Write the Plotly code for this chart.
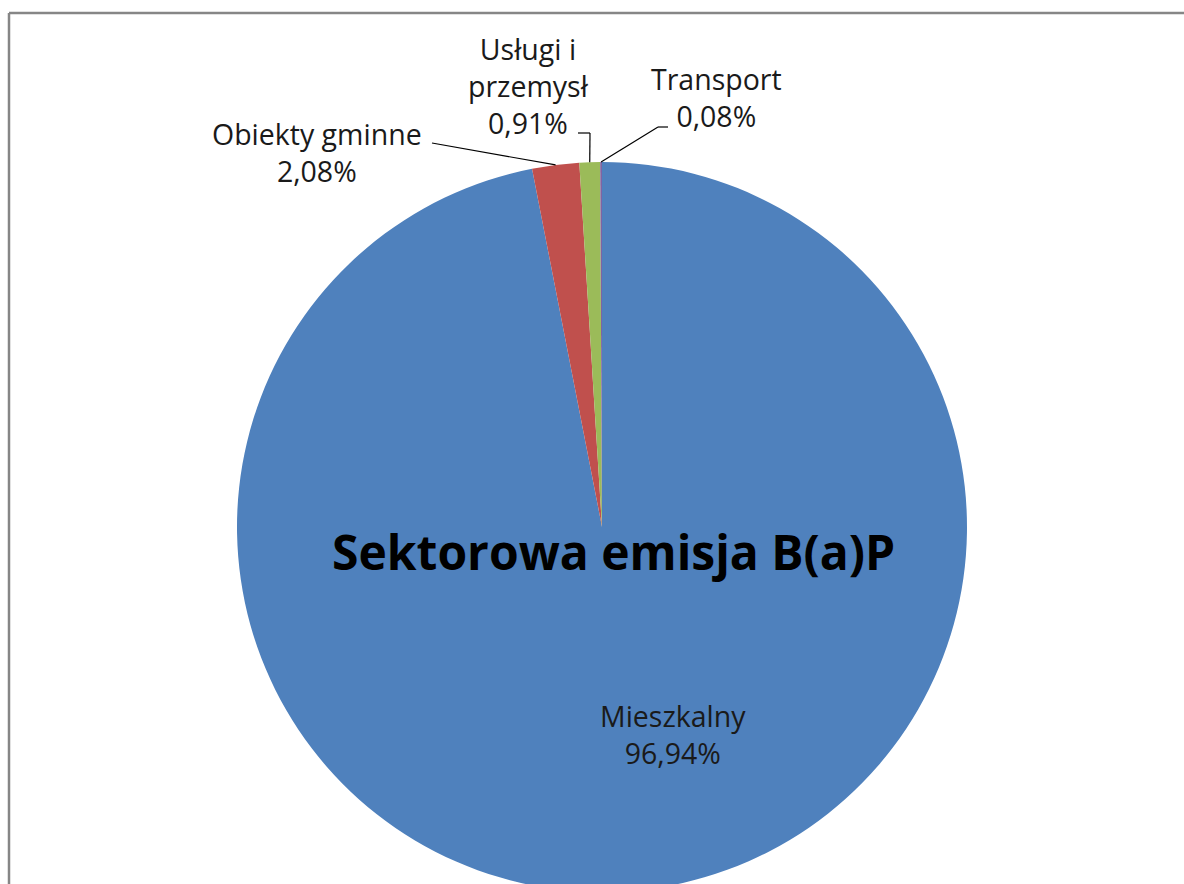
import math
import plotly.graph_objects as go

# ---- data ----
sectors = ["Mieszkalny", "Obiekty gminne", "Usługi i przemysł", "Transport"]
label_texts = ["Mieszkalny", "Obiekty gminne", "Usługi i<br>przemysł", "Transport"]
shares = [96.94, 2.08, 0.91, 0.08]
colors = ["#4F81BD", "#C0504D", "#9BBB59", "#8064A2"]
title_text = "Sektorowa emisja B(a)P"

W, H = 1184, 892   # figure a bit taller than the window; the bottom is hidden
OFF = 0            # body margin is removed below
FONT = "Open Sans"

# pie geometry in window pixels (layout)
pie_left, pie_right, pie_top = 237, 967, 162


def px(x):
    return (x - OFF) / W


def py(y):
    return 1 - (y - OFF) / H


dom_y_top = py(pie_top)
dom_h = (H + OFF) - pie_top
dom_w = pie_right - pie_left
r = min(dom_w, dom_h) / 2
cx = (pie_left + pie_right) / 2
cy = pie_top + dom_h / 2


def fmt(v):
    return f"{v:.2f}".replace(".", ",") + "%"


fig = go.Figure(
    go.Pie(
        labels=sectors,
        values=shares,
        sort=False,
        direction="clockwise",
        rotation=0,
        marker=dict(colors=colors, line=dict(width=0)),
        textinfo="none",
        hoverinfo="skip",
        showlegend=False,
        domain=dict(x=[px(pie_left), px(pie_right)], y=[0, dom_y_top]),
    )
)

# slice mid points on the rim (from data)
total = sum(shares)
cum = 0
mids = []
for v in shares:
    f_mid = (cum + v / 2) / total
    th = 2 * math.pi * f_mid
    mids.append((cx + r * math.sin(th), cy - r * math.cos(th)))
    cum += v

# label positions (layout, window pixels): center x, center y
label_pos = [(673, 734), (317, 152), (528, 86), (716, 98)]
# leader line start points / bends (layout, window pixels)
leaders = {
    1: [(432, 143)],
    2: [(578, 133), (590, 133)],
    3: [(668, 127), (658, 127)],
}

annotations = []
for i, (name, v) in enumerate(zip(label_texts, shares)):
    x, y = label_pos[i]
    annotations.append(
        dict(
            x=px(x), y=py(y), xref="paper", yref="paper",
            text=f"{name}<br>{fmt(v)}",
            showarrow=False, xanchor="center", yanchor="middle",
            font=dict(family=FONT, size=28.5, color="#1a1a1a"),
            align="center",
        )
    )

annotations.append(
    dict(
        x=px(614), y=py(551), xref="paper", yref="paper",
        text=f"<b>{title_text}</b>",
        showarrow=False, xanchor="center", yanchor="middle",
        font=dict(family=FONT, size=48, color="#000000"),
    )
)

shapes = []
for i, pts in leaders.items():
    path_pts = pts + [mids[i]]
    for (x0, y0), (x1, y1) in zip(path_pts[:-1], path_pts[1:]):
        shapes.append(
            dict(type="line", xref="paper", yref="paper",
                 x0=px(x0), y0=py(y0), x1=px(x1), y1=py(y1),
                 line=dict(color="#000000", width=1.2))
        )

# chart frame: left and top edges (right and bottom lie outside the view)
frame = dict(color="#868686", width=2.5)
shapes.append(dict(type="line", xref="paper", yref="paper",
                   x0=px(9), y0=py(13), x1=px(9), y1=py(H + 10), line=frame))
shapes.append(dict(type="line", xref="paper", yref="paper",
                   x0=px(9), y0=py(13), x1=px(W + 10), y1=py(13), line=frame))

fig.update_layout(
    width=W, height=H,
    margin=dict(l=0, r=0, t=0, b=0),
    paper_bgcolor="white", plot_bgcolor="white",
    annotations=annotations, shapes=shapes,
    font=dict(family=FONT),
)

fig.write_html(
    "out.html",
    config={"displayModeBar": False},
    post_script="document.body.style.margin='0';"
                "document.documentElement.style.overflow='hidden';"
                "document.body.style.overflow='hidden';",
)
